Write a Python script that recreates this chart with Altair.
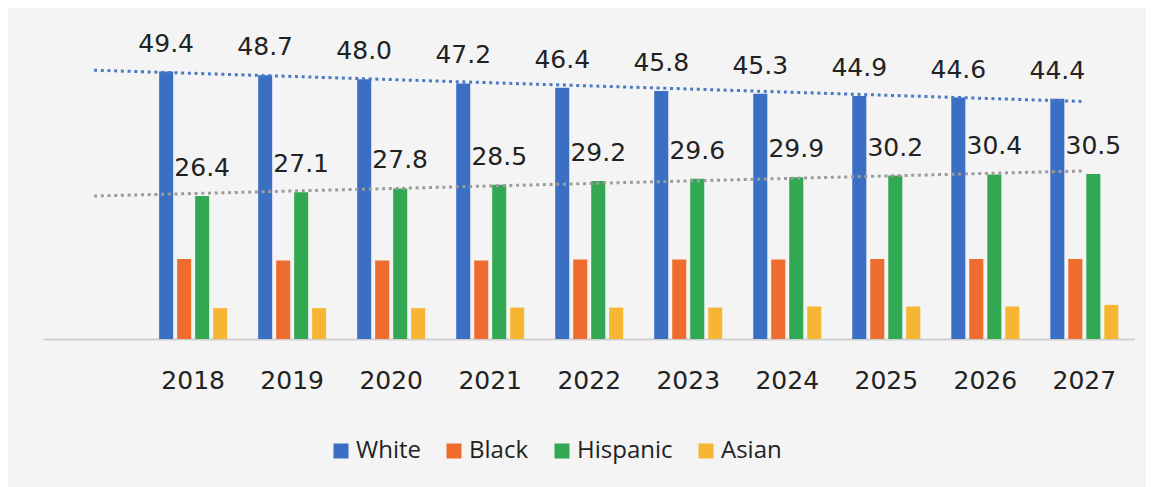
import altair as alt
import pandas as pd

years = [2018, 2019, 2020, 2021, 2022, 2023, 2024, 2025, 2026, 2027]
series = ["White", "Black", "Hispanic", "Asian"]
white = [49.4, 48.7, 48.0, 47.2, 46.4, 45.8, 45.3, 44.9, 44.6, 44.4]
black = [14.8, 14.5, 14.5, 14.5, 14.7, 14.7, 14.7, 14.8, 14.8, 14.8]
hispanic = [26.4, 27.1, 27.8, 28.5, 29.2, 29.6, 29.9, 30.2, 30.4, 30.5]
asian = [5.7, 5.7, 5.7, 5.8, 5.8, 5.8, 6.0, 6.0, 6.0, 6.3]
colors = ["#3a6fc3", "#ee6c2d", "#32a852", "#f6b532"]
labelled = ["White", "Hispanic"]

rows = []
for s, vals in zip(series, [white, black, hispanic, asian]):
    for y, v in zip(years, vals):
        rows.append({"year": y, "series": s, "value": v})
df = pd.DataFrame(rows)

NUM_FONT = "DejaVu Sans"
LEG_FONT = "Open Sans"

yscale = alt.Scale(domain=[0, 58], nice=False, zero=True)
xband = alt.Scale(paddingInner=0.273, paddingOuter=0.6455, align=0.893, round=False)
xoff = alt.Scale(domain=series, paddingInner=0.22, paddingOuter=0.11)

base = alt.Chart(df)

bars = base.mark_bar().encode(
    x=alt.X("year:O", scale=xband, title=None,
            axis=alt.Axis(labelAngle=0, ticks=False, tickSize=0, domainColor="#cfcfcf",
                          domainWidth=2, labelFont=NUM_FONT, labelFontSize=25,
                          labelColor="#222222", labelPadding=29, grid=False)),
    xOffset=alt.XOffset("series:N", scale=xoff, sort=series),
    y=alt.Y("value:Q", scale=yscale, axis=None),
    color=alt.Color("series:N", sort=series,
                    scale=alt.Scale(domain=series, range=colors),
                    legend=alt.Legend(title=None, orient="none", direction="horizontal",
                                      legendX=286, legendY=414, padding=0,
                                      symbolType="square", symbolSize=225,
                                      symbolStrokeWidth=0, labelFont=LEG_FONT,
                                      labelFontSize=24, labelColor="#222222",
                                      labelOffset=3, columnPadding=21)),
)

labels = base.transform_filter(
    alt.FieldOneOfPredicate(field="series", oneOf=labelled)
).mark_text(font=NUM_FONT, fontSize=25, color="#222222", baseline="alphabetic", dy=-20).encode(
    x=alt.X("year:O", scale=xband),
    xOffset=alt.XOffset("series:N", scale=xoff, sort=series),
    y=alt.Y("value:Q", scale=yscale),
    text=alt.Text("value:Q", format=".1f"),
)

bar_layer = alt.layer(bars, labels)

xq = alt.Scale(domain=[2016.484, 2027.5], nice=False, zero=False)

def trend(name, col):
    return base.transform_filter(alt.datum.series == name).transform_regression(
        "year", "value", extent=[2017, 2027]
    ).mark_line(color=col, strokeWidth=3, strokeDash=[3, 3.7]).encode(
        x=alt.X("year:Q", scale=xq, axis=None),
        y=alt.Y("value:Q", scale=yscale),
    )

lines = alt.layer(trend("White", "#4a7ac6"), trend("Hispanic", "#9c9c9c"))

chart = alt.layer(bar_layer, lines).resolve_scale(x="independent").properties(
    width=1091, height=314,
    padding={"left": 35, "top": 17, "right": 12, "bottom": 148},
    autosize=alt.AutoSizeParams(type="none"),
    background="#f4f4f4",
).configure_view(strokeWidth=0)

chart.save("out.html", embed_options={"renderer": "svg", "actions": False})
